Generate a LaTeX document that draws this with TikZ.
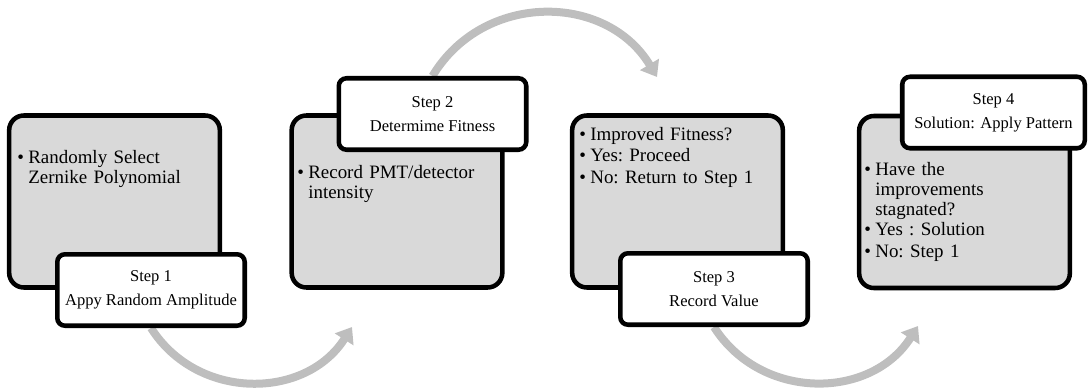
\documentclass[tikz,border=0pt]{standalone}
\usepackage{fontspec}
\setmainfont{Liberation Serif}
\usepackage{tikz}
\usetikzlibrary{arrows.meta,backgrounds}
\definecolor{panel}{RGB}{217,217,217}
\definecolor{flow}{RGB}{190,190,190}
\newcommand{\bulletitem}[1]{\par\noindent\makebox[8.3pt][l]{\textbullet}\parbox[t]{136pt}{\raggedright #1}}

\begin{document}
\begin{tikzpicture}[x=0.75pt, y=0.75pt,
    panelbox/.style={draw=black, line width=3.4pt, fill=panel, rounded corners=11pt,
      minimum width=158pt, minimum height=129pt, inner sep=0pt},
    stepbox/.style={draw=black, line width=3.4pt, fill=white, rounded corners=5.8pt,
      minimum width=140.6pt, minimum height=53.6pt, inner sep=0pt, align=center,
      font=\fontsize{12.4}{18}\selectfont},
    bullets/.style={anchor=north west, inner sep=0pt, text width=146pt, align=left,
      font=\fontsize{14.2}{15}\selectfont\frenchspacing,
      execute at begin node={\setlength{\parskip}{1.3pt}}},
    flowarrow/.style={draw=flow, line width=6pt, -{Triangle[width=16pt,length=11pt]}, looseness=1.1}]
        \useasboundingbox (0,0) rectangle (1088,390);
        % grey panels
        \node[panelbox] (g1) at (114.5,188.5) {};
        \node[panelbox] (g2) at (397,188.5) {};
        \node[panelbox] (g3) at (677.5,188.5) {};
        \node[panelbox] (g4) at (964.5,188) {};
        % panel text
        \node[bullets] (b1) at (17,249) {\bulletitem{Randomly Select\\Zernike Polynomial}};
        \node[bullets] (b2) at (297,234) {\bulletitem{Record PMT/detector\\intensity}};
        \node[bullets] (b3) at (579,272) {\bulletitem{Improved Fitness?}\bulletitem{Yes: Proceed}\bulletitem{No: Return to Step 1}};
        \node[bullets] (b4) at (864,237) {\bulletitem{Have the\\improvements\\stagnated?}\bulletitem{Yes : Solution}\bulletitem{No: Step 1}};
        % step labels
        \node[stepbox] (s1) at (151,100) {Step 1\\Appy Random Amplitude};
        \node[stepbox] (s2) at (432.5,276) {Step 2\\Determime Fitness};
        \node[stepbox] (s3) at (714,101) {Step 3\\Record Value};
        \node[stepbox, minimum width=136.9pt] (s4) at (993.5,277.5) {Step 4\\Solution: Apply Pattern};
        % curved arrows
        \coordinate (h1) at (352,63);
        \coordinate (h2) at (657,313);
        \coordinate (h3) at (918,64);
        \begin{scope}[on background layer]
          \draw[flowarrow] (s1.south) to[out=-57.5, in=-122.5] (h1);
          \draw[flowarrow, looseness=1.12] (s2.north) to[out=59, in=121] (h2);
          \draw[flowarrow] (s3.south) to[out=-57.5, in=-122.5] (h3);
        \end{scope}
      \end{tikzpicture}
\end{document}
